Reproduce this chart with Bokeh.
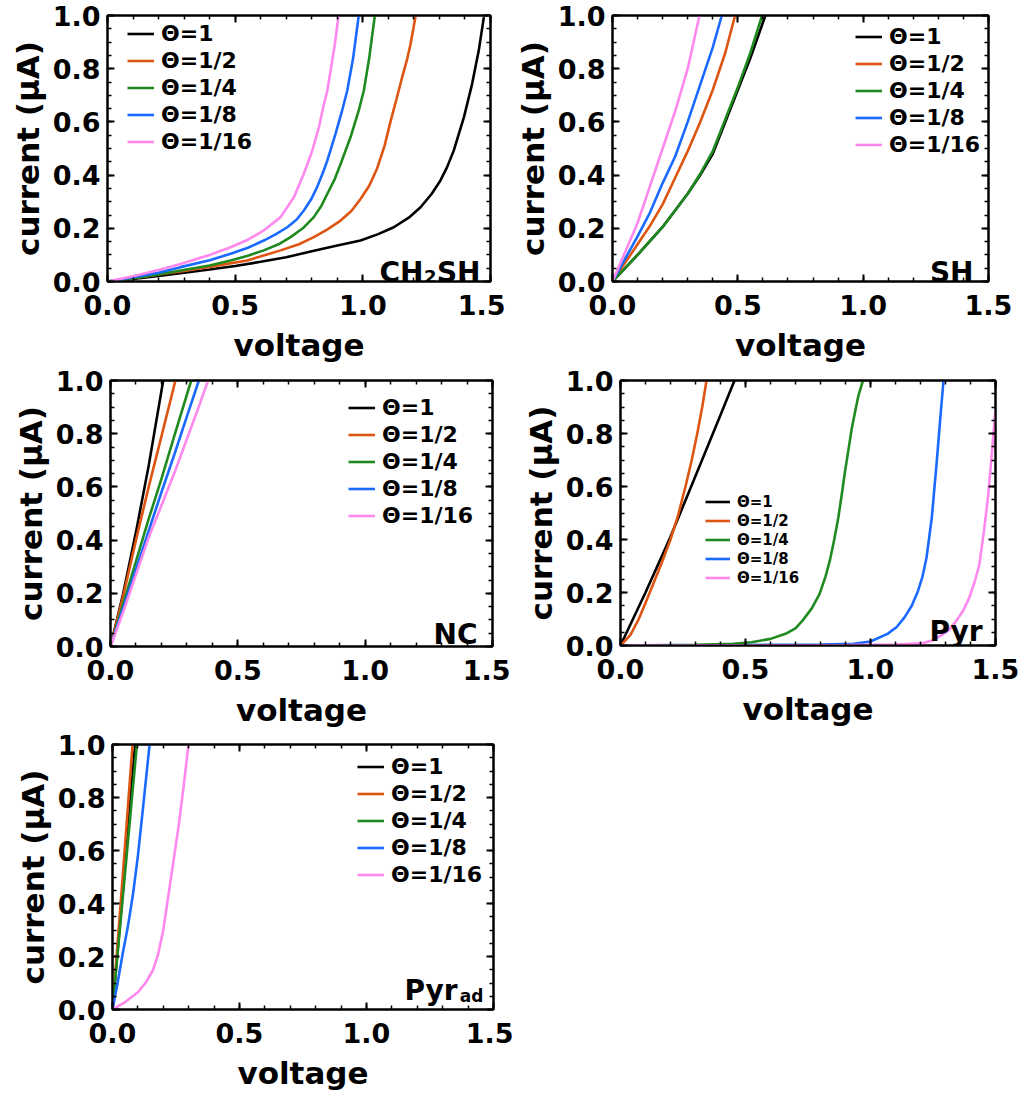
from bokeh.plotting import figure
from bokeh.models import (Legend, LegendItem, LinearAxis, Label, Range1d,
                          SingleIntervalTicker, PrintfTickFormatter,
                          CustomLabelingPolicy)
from bokeh.layouts import column, row
from bokeh.embed import file_html
from bokeh.resources import INLINE

LABELS = ["Θ=1", "Θ=1/2", "Θ=1/4", "Θ=1/8", "Θ=1/16"]
COLORS = ["#000000", "#dd5511", "#1f8a1f", "#1a6aff", "#ff88ee"]

# ---- CH2SH panel (voltage, current) per coverage ----
ch2sh_v1 = [0, 0.1, 0.2, 0.3, 0.4, 0.5, 0.6, 0.7, 0.8, 0.9, 0.991, 1.06, 1.121, 1.18, 1.226, 1.27, 1.304, 1.33, 1.356, 1.396, 1.428, 1.454, 1.474]
ch2sh_i1 = [0, 0.01, 0.021, 0.033, 0.045, 0.058, 0.074, 0.091, 0.114, 0.135, 0.154, 0.178, 0.204, 0.24, 0.279, 0.33, 0.38, 0.43, 0.492, 0.618, 0.743, 0.868, 0.994]
ch2sh_v2 = [0, 0.1, 0.2, 0.3, 0.4, 0.547, 0.678, 0.75, 0.808, 0.86, 0.913, 0.955, 0.991, 1.025, 1.056, 1.085, 1.108, 1.133, 1.154, 1.172, 1.187, 1.206]
ch2sh_i2 = [0, 0.012, 0.026, 0.04, 0.055, 0.079, 0.117, 0.14, 0.167, 0.195, 0.229, 0.265, 0.31, 0.36, 0.425, 0.51, 0.6, 0.69, 0.768, 0.83, 0.893, 0.994]
ch2sh_v4 = [0, 0.1, 0.2, 0.286, 0.4, 0.482, 0.55, 0.612, 0.67, 0.717, 0.765, 0.808, 0.838, 0.861, 0.89, 0.913, 0.952, 0.984, 1.004, 1.025, 1.047]
ch2sh_i4 = [0, 0.012, 0.026, 0.041, 0.06, 0.079, 0.097, 0.117, 0.14, 0.167, 0.2, 0.242, 0.285, 0.33, 0.385, 0.442, 0.543, 0.643, 0.718, 0.84, 1.0]
ch2sh_v8 = [0, 0.1, 0.2, 0.286, 0.4, 0.482, 0.55, 0.612, 0.66, 0.704, 0.74, 0.769, 0.797, 0.821, 0.842, 0.861, 0.893, 0.919, 0.939, 0.962, 0.984]
ch2sh_i8 = [0, 0.016, 0.033, 0.054, 0.08, 0.104, 0.127, 0.154, 0.178, 0.204, 0.232, 0.267, 0.308, 0.355, 0.405, 0.455, 0.555, 0.643, 0.718, 0.84, 1.0]
ch2sh_v16 = [0, 0.1, 0.2, 0.286, 0.4, 0.482, 0.55, 0.612, 0.678, 0.73, 0.769, 0.802, 0.828, 0.846, 0.861, 0.875, 0.89, 0.905]
ch2sh_i16 = [0, 0.02, 0.043, 0.066, 0.1, 0.129, 0.157, 0.192, 0.242, 0.317, 0.405, 0.492, 0.58, 0.66, 0.718, 0.8, 0.89, 1.0]

# ---- SH panel ----
sh_v1 = [0, 0.1, 0.2, 0.3, 0.35, 0.4, 0.45, 0.5, 0.55, 0.61]
sh_i1 = [0, 0.1, 0.205, 0.33, 0.4, 0.48, 0.6, 0.72, 0.84, 1.0]
sh_v2 = [0, 0.05, 0.1, 0.15, 0.2, 0.25, 0.3, 0.35, 0.4, 0.45, 0.489]
sh_i2 = [0, 0.07, 0.14, 0.21, 0.29, 0.39, 0.49, 0.6, 0.72, 0.86, 1.0]
sh_v4 = [0, 0.1, 0.2, 0.3, 0.35, 0.4, 0.45, 0.5, 0.55, 0.597]
sh_i4 = [0, 0.1, 0.205, 0.33, 0.405, 0.49, 0.61, 0.73, 0.86, 1.0]
sh_v8 = [0, 0.05, 0.1, 0.15, 0.2, 0.25, 0.3, 0.35, 0.4, 0.436]
sh_i8 = [0, 0.085, 0.17, 0.26, 0.37, 0.47, 0.6, 0.74, 0.88, 1.0]
sh_v16 = [0, 0.05, 0.1, 0.15, 0.2, 0.25, 0.3, 0.347]
sh_i16 = [0, 0.11, 0.22, 0.36, 0.5, 0.64, 0.8, 1.0]

# ---- NC panel ----
nc_v1 = [0, 0.05, 0.1, 0.15, 0.207]
nc_i1 = [0, 0.2, 0.43, 0.68, 1.0]
nc_v2 = [0, 0.05, 0.1, 0.15, 0.2, 0.255]
nc_i2 = [0, 0.19, 0.4, 0.6, 0.79, 1.0]
nc_v4 = [0, 0.05, 0.1, 0.15, 0.2, 0.25, 0.317]
nc_i4 = [0, 0.16, 0.32, 0.48, 0.63, 0.79, 1.0]
nc_v8 = [0, 0.05, 0.1, 0.15, 0.2, 0.25, 0.3, 0.347]
nc_i8 = [0, 0.145, 0.29, 0.435, 0.58, 0.72, 0.865, 1.0]
nc_v16 = [0, 0.05, 0.1, 0.15, 0.2, 0.25, 0.3, 0.35, 0.383]
nc_i16 = [0, 0.13, 0.27, 0.41, 0.53, 0.65, 0.78, 0.91, 1.0]

# ---- Pyr panel ----
pyr_v1 = [0, 0.1, 0.2, 0.3, 0.4, 0.456]
pyr_i1 = [0, 0.2, 0.41, 0.64, 0.87, 1.0]
pyr_v2 = [0, 0.04, 0.073, 0.1, 0.13, 0.167, 0.2, 0.23, 0.26, 0.285, 0.307, 0.327, 0.344]
pyr_i2 = [0, 0.04, 0.1, 0.16, 0.23, 0.317, 0.4, 0.49, 0.6, 0.7, 0.8, 0.9, 1.0]
pyr_v4 = [0, 0.3, 0.45, 0.524, 0.6, 0.66, 0.7, 0.728, 0.765, 0.796, 0.82, 0.837, 0.855, 0.871, 0.885, 0.898, 0.912, 0.925, 0.94, 0.952, 0.962, 0.97]
pyr_i4 = [0, 0.003, 0.006, 0.0125, 0.025, 0.044, 0.065, 0.094, 0.14, 0.194, 0.26, 0.319, 0.4, 0.481, 0.57, 0.656, 0.74, 0.819, 0.89, 0.944, 0.975, 1.0]
pyr_v8 = [0, 0.5, 0.8, 0.932, 1.0, 1.068, 1.105, 1.136, 1.165, 1.19, 1.208, 1.224, 1.245, 1.265, 1.279, 1.292]
pyr_i8 = [0, 0.002, 0.004, 0.006, 0.015, 0.044, 0.07, 0.106, 0.15, 0.206, 0.26, 0.331, 0.481, 0.694, 0.856, 1.0]
pyr_v16 = [0, 0.5, 0.9, 1.1, 1.204, 1.25, 1.285, 1.315, 1.34, 1.37, 1.394, 1.415, 1.435, 1.455, 1.47, 1.485, 1.5]
pyr_i16 = [0, 0.001, 0.002, 0.004, 0.008, 0.02, 0.039, 0.06, 0.089, 0.13, 0.178, 0.235, 0.303, 0.44, 0.56, 0.72, 0.89]

# ---- Pyr_ad panel ----
pyrad_v1 = [0, 0.045, 0.089]
pyrad_i1 = [0, 0.5, 1.0]
pyrad_v2 = [0, 0.04, 0.079]
pyrad_i2 = [0, 0.5, 1.0]
pyrad_v4 = [0, 0.048, 0.096]
pyrad_i4 = [0, 0.5, 1.0]
pyrad_v8 = [0, 0.02, 0.04, 0.06, 0.08, 0.1, 0.12, 0.146]
pyrad_i8 = [0, 0.1, 0.21, 0.31, 0.43, 0.58, 0.76, 1.0]
pyrad_v16 = [0, 0.05, 0.1, 0.13, 0.16, 0.18, 0.2, 0.22, 0.24, 0.26, 0.28, 0.299]
pyrad_i16 = [0, 0.028, 0.065, 0.1, 0.15, 0.21, 0.3, 0.43, 0.56, 0.69, 0.84, 1.0]

FONT = "DejaVu Sans"
TICK_FS = "27px"
AXLABEL_FS = "31px"

HIDE_LABELS = "for (const i of indices) { indices.unset(i) }"


def style_axis(ax, show_labels, label=None):
    ax.axis_line_width = 2
    ax.axis_line_color = "black"
    ax.major_tick_in = 7
    ax.major_tick_out = 0
    ax.minor_tick_in = 4
    ax.minor_tick_out = 0
    ax.major_tick_line_width = 2
    ax.minor_tick_line_width = 1.5
    ax.major_label_text_font = FONT
    ax.major_label_text_font_style = "bold"
    ax.major_label_text_color = "black"
    if show_labels:
        ax.major_label_text_font_size = TICK_FS
    else:
        ax.major_label_policy = CustomLabelingPolicy(code=HIDE_LABELS)
        ax.major_label_text_font_size = "0px"
        ax.major_label_standoff = 0
    if label:
        ax.axis_label = label
        ax.axis_label_text_font = FONT
        ax.axis_label_text_font_style = "bold"
        ax.axis_label_text_font_size = AXLABEL_FS
        ax.axis_label_text_color = "black"


def make_panel(series, fw, fh, bl, br, bt, bb, legend_xy, legend_fs, legend_h,
               glyph_w, labels_spec):
    p = figure(frame_width=fw, frame_height=fh, min_border_left=bl,
               min_border_right=br, min_border_top=bt, min_border_bottom=bb,
               x_range=Range1d(0, 1.5), y_range=Range1d(0, 1.0),
               output_backend="svg", toolbar_location=None,
               background_fill_color="white", border_fill_color="white")
    p.xgrid.visible = False
    p.ygrid.visible = False
    p.outline_line_color = "black"
    p.outline_line_width = 2

    xt = SingleIntervalTicker(interval=0.5, num_minor_ticks=5)
    yt = SingleIntervalTicker(interval=0.2, num_minor_ticks=4)
    fmt = PrintfTickFormatter(format="%.1f")

    p.xaxis[0].ticker = xt
    p.xaxis[0].formatter = fmt
    p.yaxis[0].ticker = yt
    p.yaxis[0].formatter = fmt
    style_axis(p.xaxis[0], True, "voltage")
    style_axis(p.yaxis[0], True, "current (μA)")
    p.xaxis[0].major_label_standoff = 13
    p.xaxis[0].axis_label_standoff = 9
    p.yaxis[0].major_label_standoff = 7
    p.yaxis[0].axis_label_standoff = 4

    ax_r = LinearAxis(ticker=yt, formatter=fmt)
    ax_t = LinearAxis(ticker=xt, formatter=fmt)
    style_axis(ax_r, False)
    style_axis(ax_t, False)
    p.add_layout(ax_r, "right")
    p.add_layout(ax_t, "above")

    items = []
    for (v, i), lab, col in zip(series, LABELS, COLORS):
        r = p.line(v, i, line_color=col, line_width=2.6)
        items.append(LegendItem(label=lab, renderers=[r]))

    leg = Legend(items=items, location=legend_xy, padding=0, margin=0,
                 spacing=0, label_height=legend_h, glyph_height=legend_h,
                 glyph_width=glyph_w, label_standoff=7,
                 label_text_font=FONT, label_text_font_style="bold",
                 label_text_font_size=legend_fs, label_text_color="black",
                 border_line_alpha=0, background_fill_alpha=0)
    p.add_layout(leg)

    for txt, fs, xo, yo in labels_spec:
        p.add_layout(Label(x=1.5, y=0, x_offset=xo, y_offset=yo, text=txt,
                           text_font=FONT, text_font_style="bold",
                           text_font_size=fs, text_align="right",
                           text_baseline="alphabetic", text_color="black"))
    return p


p1 = make_panel([(ch2sh_v1, ch2sh_i1), (ch2sh_v2, ch2sh_i2), (ch2sh_v4, ch2sh_i4),
                 (ch2sh_v8, ch2sh_i8), (ch2sh_v16, ch2sh_i16)],
                383, 266, 107, 15, 15, 80, (20, 126), "22px", 27, 27,
                [("SH", "28px", -10, 9), ("2", "18px", -54, 5), ("CH", "28px", -67, 9)])
p2 = make_panel([(sh_v1, sh_i1), (sh_v2, sh_i2), (sh_v4, sh_i4),
                 (sh_v8, sh_i8), (sh_v16, sh_i16)],
                376, 266, 107, 44, 15, 80, (243, 123), "22px", 27, 27,
                [("SH", "28px", -15, 9)])
p3 = make_panel([(nc_v1, nc_i1), (nc_v2, nc_i2), (nc_v4, nc_i4),
                 (nc_v8, nc_i8), (nc_v16, nc_i16)],
                382, 266, 110, 18, 14, 80, (238, 117), "22px", 27, 27,
                [("NC", "28px", -15, 12)])
p4 = make_panel([(pyr_v1, pyr_i1), (pyr_v2, pyr_i2), (pyr_v4, pyr_i4),
                 (pyr_v8, pyr_i8), (pyr_v16, pyr_i16)],
                375, 265, 110, 37, 15, 80, (85, 58), "15px", 19, 25,
                [("Pyr", "28px", -13, 14)])
p5 = make_panel([(pyrad_v1, pyrad_i1), (pyrad_v2, pyrad_i2), (pyrad_v4, pyrad_i4),
                 (pyrad_v8, pyrad_i8), (pyrad_v16, pyrad_i16)],
                381, 265, 112, 20, 15, 80, (245, 121), "22px", 27, 27,
                [("ad", "17px", -10, 14), ("Pyr", "28px", -36, 19)])

layout = column(row(p1, p2), row(p3, p4), row(p5))
open("out.html", "w").write(file_html(layout, INLINE))
